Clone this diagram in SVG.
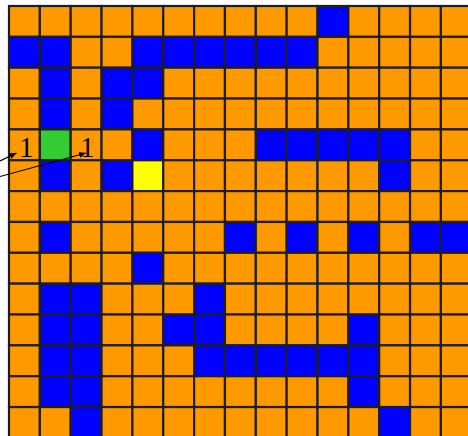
<svg xmlns="http://www.w3.org/2000/svg" width="468" height="436" viewBox="0 0 468 436">
<style>
rect{stroke:#1e1e1e;stroke-width:2.2;width:30.85px;height:30.85px}
.o{fill:#FF9900}.b{fill:#0000FF}.g{fill:#33CC33}.y{fill:#FFFF00}
.lbl{font-family:"Liberation Serif","Times New Roman",serif;font-size:29px;fill:#000;text-anchor:middle}
.conn{stroke:#000;stroke-width:1.2;fill:none}
</style>
<defs>
<marker id="ah" markerUnits="userSpaceOnUse" markerWidth="8" markerHeight="8" refX="7" refY="4" orient="auto">
<path d="M0,1 L7,4 L0,7 Z" fill="#000"/>
</marker>
</defs>
<rect width="468" height="436" style="fill:#fff;stroke:none;width:468px;height:436px"/>
<g id="grid">
<g id="row0" transform="translate(0,6)">
<rect class="o" x="9" y="0"/><rect class="o" x="39.85" y="0"/><rect class="o" x="70.7" y="0"/><rect class="o" x="101.55" y="0"/><rect class="o" x="132.4" y="0"/><rect class="o" x="163.25" y="0"/><rect class="o" x="194.1" y="0"/><rect class="o" x="224.95" y="0"/><rect class="o" x="255.8" y="0"/><rect class="o" x="286.65" y="0"/><rect class="b" x="317.5" y="0"/><rect class="o" x="348.35" y="0"/><rect class="o" x="379.2" y="0"/><rect class="o" x="410.05" y="0"/><rect class="o" x="440.9" y="0"/>
</g>
<g id="row1" transform="translate(0,36.85)">
<rect class="b" x="9" y="0"/><rect class="b" x="39.85" y="0"/><rect class="o" x="70.7" y="0"/><rect class="o" x="101.55" y="0"/><rect class="b" x="132.4" y="0"/><rect class="b" x="163.25" y="0"/><rect class="b" x="194.1" y="0"/><rect class="b" x="224.95" y="0"/><rect class="b" x="255.8" y="0"/><rect class="b" x="286.65" y="0"/><rect class="o" x="317.5" y="0"/><rect class="o" x="348.35" y="0"/><rect class="o" x="379.2" y="0"/><rect class="o" x="410.05" y="0"/><rect class="o" x="440.9" y="0"/>
</g>
<g id="row2" transform="translate(0,67.7)">
<rect class="o" x="9" y="0"/><rect class="b" x="39.85" y="0"/><rect class="o" x="70.7" y="0"/><rect class="b" x="101.55" y="0"/><rect class="b" x="132.4" y="0"/><rect class="o" x="163.25" y="0"/><rect class="o" x="194.1" y="0"/><rect class="o" x="224.95" y="0"/><rect class="o" x="255.8" y="0"/><rect class="o" x="286.65" y="0"/><rect class="o" x="317.5" y="0"/><rect class="o" x="348.35" y="0"/><rect class="o" x="379.2" y="0"/><rect class="o" x="410.05" y="0"/><rect class="o" x="440.9" y="0"/>
</g>
<g id="row3" transform="translate(0,98.55)">
<rect class="o" x="9" y="0"/><rect class="b" x="39.85" y="0"/><rect class="o" x="70.7" y="0"/><rect class="b" x="101.55" y="0"/><rect class="o" x="132.4" y="0"/><rect class="o" x="163.25" y="0"/><rect class="o" x="194.1" y="0"/><rect class="o" x="224.95" y="0"/><rect class="o" x="255.8" y="0"/><rect class="o" x="286.65" y="0"/><rect class="o" x="317.5" y="0"/><rect class="o" x="348.35" y="0"/><rect class="o" x="379.2" y="0"/><rect class="o" x="410.05" y="0"/><rect class="o" x="440.9" y="0"/>
</g>
<g id="row4" transform="translate(0,129.4)">
<rect class="o" x="9" y="0"/><rect class="g" x="39.85" y="0"/><rect class="o" x="70.7" y="0"/><rect class="o" x="101.55" y="0"/><rect class="b" x="132.4" y="0"/><rect class="o" x="163.25" y="0"/><rect class="o" x="194.1" y="0"/><rect class="o" x="224.95" y="0"/><rect class="b" x="255.8" y="0"/><rect class="b" x="286.65" y="0"/><rect class="b" x="317.5" y="0"/><rect class="b" x="348.35" y="0"/><rect class="b" x="379.2" y="0"/><rect class="o" x="410.05" y="0"/><rect class="o" x="440.9" y="0"/>
</g>
<g id="row5" transform="translate(0,160.25)">
<rect class="o" x="9" y="0"/><rect class="b" x="39.85" y="0"/><rect class="o" x="70.7" y="0"/><rect class="b" x="101.55" y="0"/><rect class="y" x="132.4" y="0"/><rect class="o" x="163.25" y="0"/><rect class="o" x="194.1" y="0"/><rect class="o" x="224.95" y="0"/><rect class="o" x="255.8" y="0"/><rect class="o" x="286.65" y="0"/><rect class="o" x="317.5" y="0"/><rect class="o" x="348.35" y="0"/><rect class="b" x="379.2" y="0"/><rect class="o" x="410.05" y="0"/><rect class="o" x="440.9" y="0"/>
</g>
<g id="row6" transform="translate(0,191.1)">
<rect class="o" x="9" y="0"/><rect class="o" x="39.85" y="0"/><rect class="o" x="70.7" y="0"/><rect class="o" x="101.55" y="0"/><rect class="o" x="132.4" y="0"/><rect class="o" x="163.25" y="0"/><rect class="o" x="194.1" y="0"/><rect class="o" x="224.95" y="0"/><rect class="o" x="255.8" y="0"/><rect class="o" x="286.65" y="0"/><rect class="o" x="317.5" y="0"/><rect class="o" x="348.35" y="0"/><rect class="o" x="379.2" y="0"/><rect class="o" x="410.05" y="0"/><rect class="o" x="440.9" y="0"/>
</g>
<g id="row7" transform="translate(0,221.95)">
<rect class="o" x="9" y="0"/><rect class="b" x="39.85" y="0"/><rect class="o" x="70.7" y="0"/><rect class="o" x="101.55" y="0"/><rect class="o" x="132.4" y="0"/><rect class="o" x="163.25" y="0"/><rect class="o" x="194.1" y="0"/><rect class="b" x="224.95" y="0"/><rect class="o" x="255.8" y="0"/><rect class="b" x="286.65" y="0"/><rect class="o" x="317.5" y="0"/><rect class="b" x="348.35" y="0"/><rect class="o" x="379.2" y="0"/><rect class="b" x="410.05" y="0"/><rect class="b" x="440.9" y="0"/>
</g>
<g id="row8" transform="translate(0,252.8)">
<rect class="o" x="9" y="0"/><rect class="o" x="39.85" y="0"/><rect class="o" x="70.7" y="0"/><rect class="o" x="101.55" y="0"/><rect class="b" x="132.4" y="0"/><rect class="o" x="163.25" y="0"/><rect class="o" x="194.1" y="0"/><rect class="o" x="224.95" y="0"/><rect class="o" x="255.8" y="0"/><rect class="o" x="286.65" y="0"/><rect class="o" x="317.5" y="0"/><rect class="o" x="348.35" y="0"/><rect class="o" x="379.2" y="0"/><rect class="o" x="410.05" y="0"/><rect class="o" x="440.9" y="0"/>
</g>
<g id="row9" transform="translate(0,283.65)">
<rect class="o" x="9" y="0"/><rect class="b" x="39.85" y="0"/><rect class="b" x="70.7" y="0"/><rect class="o" x="101.55" y="0"/><rect class="o" x="132.4" y="0"/><rect class="o" x="163.25" y="0"/><rect class="b" x="194.1" y="0"/><rect class="o" x="224.95" y="0"/><rect class="o" x="255.8" y="0"/><rect class="o" x="286.65" y="0"/><rect class="o" x="317.5" y="0"/><rect class="o" x="348.35" y="0"/><rect class="o" x="379.2" y="0"/><rect class="o" x="410.05" y="0"/><rect class="o" x="440.9" y="0"/>
</g>
<g id="row10" transform="translate(0,314.5)">
<rect class="o" x="9" y="0"/><rect class="b" x="39.85" y="0"/><rect class="b" x="70.7" y="0"/><rect class="o" x="101.55" y="0"/><rect class="o" x="132.4" y="0"/><rect class="b" x="163.25" y="0"/><rect class="b" x="194.1" y="0"/><rect class="o" x="224.95" y="0"/><rect class="o" x="255.8" y="0"/><rect class="o" x="286.65" y="0"/><rect class="o" x="317.5" y="0"/><rect class="b" x="348.35" y="0"/><rect class="o" x="379.2" y="0"/><rect class="o" x="410.05" y="0"/><rect class="o" x="440.9" y="0"/>
</g>
<g id="row11" transform="translate(0,345.35)">
<rect class="o" x="9" y="0"/><rect class="b" x="39.85" y="0"/><rect class="b" x="70.7" y="0"/><rect class="o" x="101.55" y="0"/><rect class="o" x="132.4" y="0"/><rect class="o" x="163.25" y="0"/><rect class="b" x="194.1" y="0"/><rect class="b" x="224.95" y="0"/><rect class="b" x="255.8" y="0"/><rect class="b" x="286.65" y="0"/><rect class="b" x="317.5" y="0"/><rect class="b" x="348.35" y="0"/><rect class="o" x="379.2" y="0"/><rect class="o" x="410.05" y="0"/><rect class="o" x="440.9" y="0"/>
</g>
<g id="row12" transform="translate(0,376.2)">
<rect class="o" x="9" y="0"/><rect class="b" x="39.85" y="0"/><rect class="b" x="70.7" y="0"/><rect class="o" x="101.55" y="0"/><rect class="o" x="132.4" y="0"/><rect class="o" x="163.25" y="0"/><rect class="o" x="194.1" y="0"/><rect class="o" x="224.95" y="0"/><rect class="o" x="255.8" y="0"/><rect class="o" x="286.65" y="0"/><rect class="o" x="317.5" y="0"/><rect class="b" x="348.35" y="0"/><rect class="o" x="379.2" y="0"/><rect class="o" x="410.05" y="0"/><rect class="o" x="440.9" y="0"/>
</g>
<g id="row13" transform="translate(0,407.05)">
<rect class="o" x="9" y="0"/><rect class="o" x="39.85" y="0"/><rect class="b" x="70.7" y="0"/><rect class="o" x="101.55" y="0"/><rect class="o" x="132.4" y="0"/><rect class="o" x="163.25" y="0"/><rect class="o" x="194.1" y="0"/><rect class="o" x="224.95" y="0"/><rect class="o" x="255.8" y="0"/><rect class="o" x="286.65" y="0"/><rect class="o" x="317.5" y="0"/><rect class="o" x="348.35" y="0"/><rect class="b" x="379.2" y="0"/><rect class="o" x="410.05" y="0"/><rect class="o" x="440.9" y="0"/>
</g>
</g>
<g id="label-a"><text class="lbl" x="26.3" y="156.7">1</text></g>
<g id="label-b"><text class="lbl" x="87.3" y="156.7">1</text></g>
<g id="connectors">
<line class="conn" x1="0" y1="161" x2="16.5" y2="153" marker-end="url(#ah)"/>
<line class="conn" x1="0" y1="176.5" x2="86" y2="153" marker-end="url(#ah)"/>
</g>
</svg>
